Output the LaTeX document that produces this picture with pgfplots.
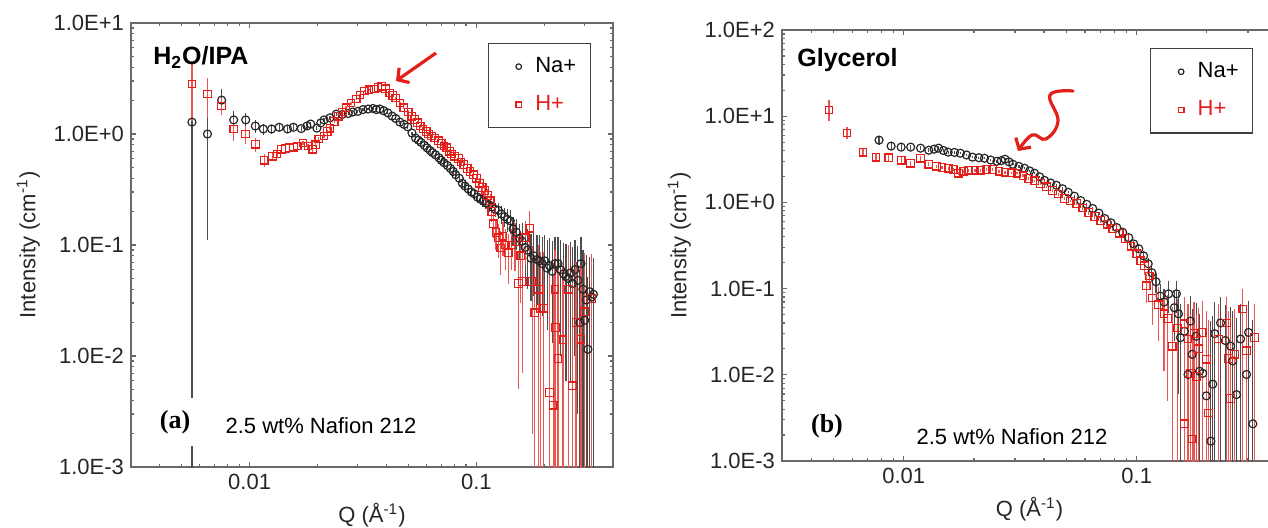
\documentclass[border=0pt]{standalone}
\usepackage{fontspec}
\setmainfont{Liberation Sans}
\newfontfamily\timesfont{Liberation Serif}
\usepackage{pgfplots}
\usepackage{pgfplotstable}
\pgfplotsset{compat=1.18}
\usetikzlibrary{arrows.meta}
\definecolor{hred}{RGB}{228,30,24}
\definecolor{axgray}{RGB}{105,105,105}

% left panel, H2O/IPA:  q  I  err+  err-
\pgfplotstableread{
q I ep em
0.00557 1.28 0.50 1.2795
0.00652 1.00 0.70 0.89
0.00753 2.02 0.50 0.45
0.00851 1.34 0.26 0.25
0.00961 1.34 0.22 0.22
0.0106 1.18 0.16 0.15
0.0115 1.11 0.12 0.12
0.0125 1.11 0.10 0.10
0.0135 1.15 0.09 0.09
0.0147 1.11 0.08 0.08
0.0156 1.15 0.07 0.07
0.0169 1.12 0.06 0.06
0.0179 1.18 0.06 0.06
0.0186 1.23 0.05 0.05
0.0198 1.13 0.05 0.05
0.0206 1.26 0.05 0.05
0.0213 1.34 0.05 0.05
0.0226 1.40 0.05 0.05
0.0241 1.51 0.05 0.05
0.0256 1.50 0.05 0.05
0.0272 1.53 0.05 0.05
0.0285 1.58 0.05 0.05
0.0300 1.60 0.05 0.05
0.0316 1.66 0.05 0.05
0.0333 1.68 0.05 0.05
0.0350 1.70 0.05 0.05
0.0362 1.66 0.05 0.05
0.0375 1.68 0.05 0.05
0.0390 1.62 0.05 0.05
0.0407 1.55 0.05 0.05
0.0425 1.45 0.04 0.04
0.0441 1.38 0.04 0.04
0.0460 1.28 0.04 0.04
0.0480 1.22 0.04 0.04
0.0498 1.16 0.04 0.04
0.0520 1.02 0.03 0.03
0.0539 0.92 0.03 0.03
0.0555 0.88 0.03 0.03
0.0570 0.84 0.03 0.03
0.0590 0.79 0.03 0.03
0.0606 0.75 0.03 0.03
0.0625 0.71 0.03 0.03
0.0640 0.68 0.03 0.03
0.0660 0.65 0.03 0.03
0.0684 0.61 0.03 0.03
0.0700 0.58 0.03 0.03
0.0720 0.55 0.03 0.03
0.0745 0.52 0.03 0.03
0.0768 0.49 0.03 0.03
0.0790 0.46 0.03 0.03
0.0810 0.43 0.03 0.03
0.0840 0.40 0.03 0.03
0.0867 0.36 0.03 0.03
0.0890 0.34 0.03 0.03
0.0920 0.32 0.03 0.03
0.0950 0.30 0.03 0.03
0.0977 0.29 0.03 0.03
0.1010 0.27 0.03 0.03
0.1040 0.26 0.03 0.03
0.1070 0.25 0.03 0.03
0.1100 0.24 0.03 0.03
0.1135 0.23 0.03 0.03
0.1170 0.22 0.03 0.03
0.1210 0.21 0.03 0.03
0.1250 0.205 0.035 0.035
0.1290 0.19 0.035 0.035
0.1330 0.18 0.035 0.035
0.1370 0.17 0.04 0.04
0.1410 0.165 0.04 0.04
0.1450 0.14 0.04 0.04
0.1500 0.13 0.04 0.04
0.1550 0.115 0.04 0.04
0.1590 0.108 0.05 0.05
0.1640 0.095 0.05 0.05
0.1680 0.09 0.05 0.05
0.1740 0.076 0.05 0.045
0.1790 0.080 0.05 0.045
0.1850 0.074 0.05 0.045
0.1900 0.072 0.05 0.045
0.1950 0.068 0.05 0.045
0.2000 0.072 0.05 0.045
0.2050 0.062 0.05 0.045
0.2100 0.065 0.05 0.045
0.2160 0.058 0.05 0.045
0.2220 0.068 0.05 0.045
0.2290 0.068 0.05 0.05
0.2350 0.060 0.05 0.05
0.2420 0.055 0.05 0.05
0.2480 0.052 0.05 0.046
0.2540 0.050 0.05 0.045
0.2600 0.056 0.05 0.05
0.2650 0.045 0.05 0.042
0.2720 0.060 0.05 0.05
0.2800 0.048 0.05 0.045
0.2860 0.020 0.04 0.0199
0.2890 0.068 0.05 0.06
0.2950 0.040 0.05 0.039
0.3000 0.021 0.04 0.0209
0.3050 0.032 0.05 0.0318
0.3100 0.0115 0.04 0.0114
0.3150 0.038 0.04 0.0378
0.3220 0.034 0.04 0.0338
0.3280 0.036 0.04 0.0358
}\naA

\pgfplotstableread{
q I ep em
0.00557 2.82 1.50 1.50
0.00652 2.29 0.90 0.90
0.00753 1.79 0.30 0.30
0.00851 1.11 0.25 0.25
0.00961 1.00 0.18 0.18
0.0106 0.81 0.12 0.12
0.0116 0.58 0.08 0.08
0.0126 0.63 0.06 0.06
0.0132 0.66 0.05 0.05
0.0138 0.73 0.05 0.05
0.0144 0.74 0.04 0.04
0.0150 0.75 0.04 0.04
0.0156 0.76 0.04 0.04
0.0162 0.78 0.04 0.04
0.0172 0.83 0.04 0.04
0.0181 0.78 0.04 0.04
0.0190 0.73 0.04 0.04
0.0196 0.80 0.04 0.04
0.0202 0.90 0.04 0.04
0.0213 0.96 0.04 0.04
0.0220 1.05 0.04 0.04
0.0226 1.13 0.05 0.05
0.0236 1.30 0.05 0.05
0.0246 1.45 0.05 0.05
0.0256 1.58 0.05 0.05
0.0266 1.72 0.05 0.05
0.0280 1.90 0.06 0.06
0.0295 2.07 0.06 0.06
0.0307 2.25 0.06 0.06
0.0320 2.44 0.06 0.06
0.0336 2.50 0.06 0.06
0.0354 2.54 0.06 0.06
0.0368 2.62 0.06 0.06
0.0383 2.70 0.06 0.06
0.0398 2.55 0.06 0.06
0.0415 2.34 0.06 0.06
0.0428 2.22 0.05 0.05
0.0441 2.11 0.05 0.05
0.0460 1.90 0.05 0.05
0.0478 1.72 0.05 0.05
0.0500 1.58 0.05 0.05
0.0519 1.45 0.04 0.04
0.0535 1.35 0.04 0.04
0.0550 1.26 0.04 0.04
0.0565 1.18 0.04 0.04
0.0581 1.11 0.04 0.04
0.0600 1.05 0.04 0.04
0.0615 1.00 0.04 0.04
0.0635 0.96 0.04 0.04
0.0655 0.92 0.04 0.04
0.0680 0.87 0.04 0.04
0.0700 0.82 0.04 0.04
0.0720 0.78 0.04 0.04
0.0740 0.75 0.04 0.04
0.0760 0.70 0.04 0.04
0.0778 0.66 0.04 0.04
0.0800 0.63 0.04 0.04
0.0832 0.60 0.04 0.04
0.0855 0.56 0.04 0.04
0.0880 0.53 0.04 0.04
0.0910 0.49 0.04 0.04
0.0937 0.46 0.04 0.04
0.0970 0.43 0.04 0.04
0.1000 0.40 0.04 0.04
0.1030 0.36 0.04 0.04
0.1060 0.33 0.04 0.04
0.1090 0.31 0.04 0.04
0.1120 0.28 0.04 0.04
0.1150 0.25 0.04 0.04
0.1170 0.20 0.04 0.04
0.1190 0.155 0.04 0.04
0.1220 0.13 0.04 0.04
0.1250 0.116 0.04 0.04
0.1280 0.094 0.04 0.04
0.1310 0.12 0.04 0.04
0.1340 0.100 0.04 0.04
0.1380 0.085 0.04 0.04
0.1430 0.100 0.04 0.04
0.1480 0.108 0.05 0.05
0.1530 0.045 0.04 0.04
0.1570 0.080 0.05 0.05
0.1590 0.047 0.05 0.04
0.1640 0.116 0.05 0.05
0.1720 0.142 0.06 0.06
0.1760 0.047 0.05 0.045
0.1810 0.0245 0.05 0.0243
0.1880 0.040 0.06 0.0397
0.1920 0.027 0.06 0.0268
0.1980 0.027 0.06 0.0268
0.2100 0.0047 0.05 0.00468
0.2180 0.0036 0.05 0.00358
0.2220 0.040 0.05 0.0398
0.2240 0.018 0.05 0.0179
0.2290 0.0095 0.05 0.00945
0.2410 0.014 0.05 0.0139
0.2550 0.040 0.06 0.0398
0.2650 0.0054 0.04 0.00538
0.2750 0.020 0.05 0.0199
0.2890 0.0142 0.05 0.0141
0.3000 0.025 0.06 0.0249
0.3220 0.033 0.05 0.0328
}\hA

% right panel, glycerol
\pgfplotstableread{
q I ep em
0.00783 5.28 0.6 0.6
0.00882 4.50 0.4 0.4
0.00974 4.38 0.35 0.35
0.0107 4.38 0.3 0.3
0.0118 4.26 0.25 0.25
0.0128 4.03 0.2 0.2
0.0135 4.15 0.2 0.2
0.0141 4.26 0.2 0.2
0.0148 4.00 0.15 0.15
0.0155 3.83 0.15 0.15
0.0165 3.80 0.15 0.15
0.0175 3.72 0.12 0.12
0.0186 3.55 0.12 0.12
0.0197 3.35 0.1 0.1
0.0210 3.30 0.1 0.1
0.0222 3.25 0.1 0.1
0.0236 3.10 0.1 0.1
0.0251 3.00 0.1 0.1
0.0262 3.05 0.1 0.1
0.0272 3.17 0.1 0.1
0.0283 2.95 0.1 0.1
0.0294 2.77 0.08 0.08
0.0312 2.62 0.08 0.08
0.0330 2.49 0.08 0.08
0.0347 2.32 0.07 0.07
0.0364 2.18 0.07 0.07
0.0383 1.98 0.06 0.06
0.0402 1.80 0.06 0.06
0.0427 1.68 0.05 0.05
0.0452 1.58 0.05 0.05
0.0480 1.44 0.05 0.05
0.0508 1.31 0.04 0.04
0.0540 1.18 0.04 0.04
0.0575 1.05 0.04 0.04
0.0610 0.95 0.03 0.03
0.0647 0.85 0.03 0.03
0.0688 0.75 0.03 0.03
0.0729 0.65 0.03 0.03
0.0775 0.58 0.03 0.03
0.0821 0.51 0.03 0.03
0.0870 0.45 0.03 0.03
0.0924 0.39 0.03 0.03
0.0970 0.33 0.03 0.03
0.102 0.29 0.03 0.03
0.107 0.24 0.03 0.03
0.112 0.194 0.03 0.03
0.116 0.153 0.03 0.03
0.121 0.12 0.03 0.03
0.126 0.082 0.03 0.03
0.131 0.07 0.03 0.03
0.137 0.087 0.035 0.035
0.145 0.060 0.035 0.035
0.148 0.087 0.035 0.035
0.151 0.051 0.04 0.045
0.154 0.027 0.04 0.0265
0.160 0.032 0.04 0.0315
0.166 0.0101 0.04 0.0099
0.170 0.042 0.04 0.0415
0.173 0.0173 0.04 0.0171
0.180 0.028 0.04 0.0277
0.186 0.011 0.04 0.0108
0.192 0.0104 0.04 0.0102
0.199 0.0057 0.04 0.0056
0.208 0.0017 0.04 0.00168
0.212 0.0078 0.04 0.0077
0.216 0.030 0.04 0.0296
0.229 0.040 0.04 0.0395
0.240 0.025 0.04 0.0247
0.253 0.0215 0.04 0.0212
0.258 0.0145 0.04 0.0143
0.268 0.0059 0.04 0.0058
0.279 0.026 0.04 0.0257
0.296 0.0101 0.04 0.0099
0.302 0.031 0.04 0.0306
0.315 0.0027 0.04 0.00266
}\naB

\pgfplotstableread{
q I ep em
0.00477 11.8 3.5 3.0
0.00570 6.37 1.1 1.0
0.00668 3.83 0.5 0.5
0.00760 3.35 0.35 0.35
0.00862 3.30 0.3 0.3
0.00974 3.09 0.25 0.25
0.0107 2.85 0.2 0.2
0.0118 3.25 0.2 0.2
0.0128 2.77 0.15 0.15
0.0138 2.63 0.12 0.12
0.0146 2.55 0.1 0.1
0.0155 2.50 0.1 0.1
0.0163 2.40 0.1 0.1
0.0172 2.18 0.1 0.1
0.0181 2.30 0.1 0.1
0.0190 2.36 0.1 0.1
0.0202 2.36 0.08 0.08
0.0214 2.36 0.08 0.08
0.0227 2.40 0.08 0.08
0.0241 2.42 0.08 0.08
0.0256 2.30 0.08 0.08
0.0272 2.24 0.08 0.08
0.0289 2.20 0.07 0.07
0.0306 2.18 0.07 0.07
0.0325 2.04 0.07 0.07
0.0344 1.90 0.06 0.06
0.0365 1.78 0.06 0.06
0.0386 1.66 0.06 0.06
0.0410 1.52 0.05 0.05
0.0434 1.38 0.05 0.05
0.0460 1.25 0.05 0.05
0.0489 1.11 0.05 0.05
0.0520 1.04 0.04 0.04
0.0553 0.97 0.04 0.04
0.0587 0.86 0.04 0.04
0.0622 0.76 0.04 0.04
0.0660 0.69 0.04 0.04
0.0701 0.62 0.04 0.04
0.0745 0.56 0.04 0.04
0.0790 0.50 0.04 0.04
0.0840 0.44 0.04 0.04
0.0890 0.38 0.04 0.04
0.0945 0.31 0.04 0.04
0.1000 0.254 0.04 0.04
0.1040 0.21 0.04 0.04
0.1080 0.184 0.04 0.04
0.1100 0.108 0.04 0.04
0.1130 0.14 0.04 0.04
0.1170 0.078 0.04 0.04
0.1240 0.065 0.04 0.04
0.1310 0.051 0.04 0.04
0.1360 0.045 0.04 0.04
0.1420 0.0215 0.04 0.0212
0.1500 0.035 0.04 0.0346
0.1600 0.039 0.04 0.0386
0.1660 0.026 0.04 0.0257
0.1700 0.0104 0.04 0.0102
0.1760 0.030 0.04 0.0296
0.1810 0.0096 0.04 0.0095
0.1840 0.020 0.04 0.0197
0.1910 0.031 0.04 0.0306
0.1990 0.0152 0.04 0.015
0.1600 0.0027 0.04 0.00266
0.1730 0.0018 0.04 0.00178
0.2030 0.0036 0.04 0.00356
0.2240 0.026 0.04 0.0257
0.2430 0.040 0.04 0.0395
0.2480 0.0155 0.04 0.0153
0.2530 0.0053 0.04 0.0052
0.2630 0.0173 0.04 0.0171
0.2850 0.058 0.04 0.0575
0.2960 0.019 0.04 0.0188
0.3200 0.027 0.04 0.0267
}\hB

\begin{document}
\begin{tikzpicture}
\useasboundingbox (0,0) rectangle (634pt,263.5pt);

\begin{axis}[
  xmode=log, ymode=log, scale only axis,
  at={(65.5pt,30pt)}, anchor=south west,
  width=241pt, height=222pt,
  xmin=0.003, xmax=0.4, ymin=1e-3, ymax=10,
  xtick={0.01,0.1}, xticklabels={0.01,0.1},
  minor xtick={0.003,0.004,0.005,0.006,0.007,0.008,0.009,0.02,0.03,0.04,0.05,0.06,0.07,0.08,0.09,0.2,0.3},
  ytick={1e-3,1e-2,1e-1,1,10},
  yticklabels={1.0E-3,1.0E-2,1.0E-1,1.0E+0,1.0E+1},
  minor ytick={0.002,0.003,0.004,0.005,0.006,0.007,0.008,0.009,0.02,0.03,0.04,0.05,0.06,0.07,0.08,0.09,0.2,0.3,0.4,0.5,0.6,0.7,0.8,0.9,2,3,4,5,6,7,8,9},
  tick align=inside, major tick length=2.4pt, minor tick length=1.6pt,
  axis line style={axgray, line width=0.7pt},
  tick style={axgray, line width=0.6pt},
  tick label style={font=\fontsize{11}{12}\selectfont, text=black!85},
  xlabel style={font=\fontsize{11}{12}\selectfont, text=black!85},
  ylabel style={font=\fontsize{11}{12}\selectfont, text=black!85},
  xlabel={Q (Å\textsuperscript{-1})},
  ylabel={Intensity (cm\textsuperscript{-1})},
  legend style={at={(0.954,0.955)}, anchor=north east, draw=black!75, line width=0.6pt,
    font=\fontsize{11}{12}\selectfont, row sep=6pt, inner xsep=5pt, inner ysep=5pt},
  legend cell align=left,
  legend image code/.code={\draw[draw=none, fill=none] (0cm,-0.05cm) rectangle (0.58cm,0.05cm);
    \draw[#1, mark size=1.4pt] plot coordinates {(0.36cm,0cm)};},
]
\addplot[only marks, mark=o, mark size=2pt, black!85, mark options={line width=0.6pt},
  error bars/y dir=both, error bars/y explicit, error bars/error mark=none,
  error bars/error bar style={black!70, line width=0.6pt}]
  table[x=q, y=I, y error plus=ep, y error minus=em] {\naA};
\addlegendentry{Na+}
\addplot[only marks, mark=square, mark size=1.9pt, hred, mark options={line width=0.6pt},
  error bars/y dir=both, error bars/y explicit, error bars/error mark=none,
  error bars/error bar style={hred!75, line width=0.6pt}]
  table[x=q, y=I, y error plus=ep, y error minus=em] {\hA};
\addlegendentry{\textcolor{hred}{H+}}
\end{axis}

\begin{axis}[
  xmode=log, ymode=log, scale only axis,
  at={(391pt,33pt)}, anchor=south west,
  width=247.5pt, height=215.5pt,
  xmin=0.003, xmax=0.4, ymin=1e-3, ymax=100,
  xtick={0.01,0.1}, xticklabels={0.01,0.1},
  minor xtick={0.003,0.004,0.005,0.006,0.007,0.008,0.009,0.02,0.03,0.04,0.05,0.06,0.07,0.08,0.09,0.2,0.3},
  ytick={1e-3,1e-2,1e-1,1,10,100},
  yticklabels={1.0E-3,1.0E-2,1.0E-1,1.0E+0,1.0E+1,1.0E+2},
  minor ytick={0.002,0.003,0.004,0.005,0.006,0.007,0.008,0.009,0.02,0.03,0.04,0.05,0.06,0.07,0.08,0.09,0.2,0.3,0.4,0.5,0.6,0.7,0.8,0.9,2,3,4,5,6,7,8,9,20,30,40,50,60,70,80,90},
  tick align=inside, major tick length=2.4pt, minor tick length=1.6pt,
  axis line style={axgray, line width=0.7pt},
  tick style={axgray, line width=0.6pt},
  tick label style={font=\fontsize{11}{12}\selectfont, text=black!85},
  xlabel style={font=\fontsize{11}{12}\selectfont, text=black!85},
  ylabel style={font=\fontsize{11}{12}\selectfont, text=black!85},
  xlabel={Q (Å\textsuperscript{-1})},
  ylabel={Intensity (cm\textsuperscript{-1})},
  legend style={at={(0.952,0.958)}, anchor=north east, draw=black!75, line width=0.6pt,
    font=\fontsize{11}{12}\selectfont, row sep=6pt, inner xsep=5pt, inner ysep=5pt},
  legend cell align=left,
  legend image code/.code={\draw[draw=none, fill=none] (0cm,-0.05cm) rectangle (0.58cm,0.05cm);
    \draw[#1, mark size=1.4pt] plot coordinates {(0.36cm,0cm)};},
]
\addplot[only marks, mark=o, mark size=2pt, black!85, mark options={line width=0.6pt},
  error bars/y dir=both, error bars/y explicit, error bars/error mark=none,
  error bars/error bar style={black!70, line width=0.6pt}]
  table[x=q, y=I, y error plus=ep, y error minus=em] {\naB};
\addlegendentry{Na+}
\addplot[only marks, mark=square, mark size=1.9pt, hred, mark options={line width=0.6pt},
  error bars/y dir=both, error bars/y explicit, error bars/error mark=none,
  error bars/error bar style={hred!75, line width=0.6pt}]
  table[x=q, y=I, y error plus=ep, y error minus=em] {\hB};
\addlegendentry{\textcolor{hred}{H+}}
\end{axis}

% panel texts
\node[anchor=west, inner sep=0pt, font=\bfseries\fontsize{12.5}{13}\selectfont] at (76.5pt,235pt) {H\textsubscript{2}O/IPA};
\node[anchor=west, inner sep=0pt, font=\bfseries\fontsize{12.5}{13}\selectfont] at (398.5pt,233.5pt) {Glycerol};
\node[fill=white, inner xsep=2pt, inner ysep=6pt, font=\timesfont\bfseries\fontsize{13}{14}\selectfont] at (87.5pt,52.5pt) {(a)};
\node[font=\timesfont\bfseries\fontsize{13}{14}\selectfont] at (413.5pt,50.5pt) {(b)};
\node[font=\fontsize{11}{12}\selectfont] at (160.5pt,50.5pt) {2.5 wt\% Nafion 212};
\node[font=\fontsize{11}{12}\selectfont] at (506pt,45pt) {2.5 wt\% Nafion 212};

% red arrows
\draw[hred, line width=1.6pt, -{Straight Barb[length=4pt,width=9pt]}] (218pt,237pt) -- (198pt,223pt);
\draw[hred, line width=1.6pt, line cap=round, -{Straight Barb[length=4pt,width=9pt]}]
  plot[smooth, tension=0.7] coordinates {(536.5pt,218pt) (525pt,216pt) (529pt,203pt) (523pt,194pt) (516pt,196pt) (509pt,188pt)};
\end{tikzpicture}
\end{document}
